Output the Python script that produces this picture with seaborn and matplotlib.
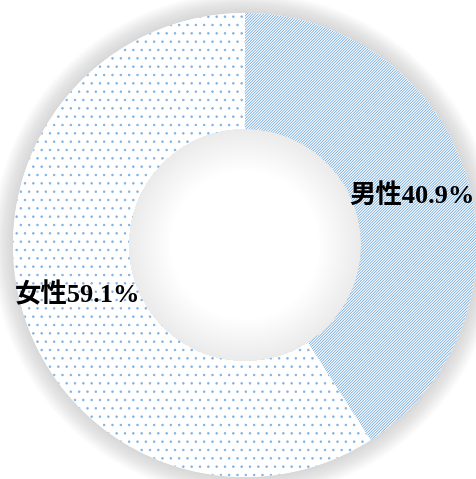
# Gender ratio donut chart
import matplotlib
matplotlib.use("Agg")
import matplotlib.pyplot as plt
from matplotlib.patches import Wedge
import seaborn as sns

# Data
labels = ['男性', '女性']
values = [40.9, 59.1]
hatches = ['/' * 12, '..']
hatch_colors = ['#6aa5db', '#7fb2e2']

sns.set_theme(style='white')
plt.rcParams['font.family'] = ['Liberation Serif', 'Noto Sans CJK JP']
plt.rcParams['hatch.linewidth'] = 0.55

fig = plt.figure(figsize=(4.77, 4.79), dpi=100)
ax = fig.add_axes([0, 0, 1, 1])

# soft shadow around the outer edge
for k in range(1, 16):
    d = k * 0.006
    ax.add_patch(Wedge((0, 0), 1 + d, 0, 360, width=d,
                       facecolor='#808080', alpha=0.02, lw=0, zorder=0))

texts = [f'{l}{v}%' for l, v in zip(labels, values)]
wedges, txts = ax.pie(values, labels=texts, startangle=90, counterclock=False,
                      labeldistance=0.75,
                      wedgeprops=dict(width=0.5, facecolor='white', linewidth=0),
                      textprops=dict(fontsize=19, fontweight='bold',
                                     color='black'))
for w, h, c in zip(wedges, hatches, hatch_colors):
    w.set_hatch(h)
    w.set_edgecolor(c)
    w.set_linewidth(0)
    w.set_zorder(1)
for t in txts:
    t.set_ha('center')
    t.set_va('center')
    t.set_zorder(5)

# inner shadow inside the hole
for k in range(1, 21):
    ax.add_patch(Wedge((0, 0), 0.5, 0, 360, width=k * 0.009,
                       facecolor='#808080', alpha=0.008, lw=0, zorder=2))

ax.set_xlim(-245 / 232, 232 / 232)
ax.set_ylim(-234 / 232, 245 / 232)
ax.set_aspect('auto')
ax.axis('off')

fig.savefig('out.png', dpi=100)
